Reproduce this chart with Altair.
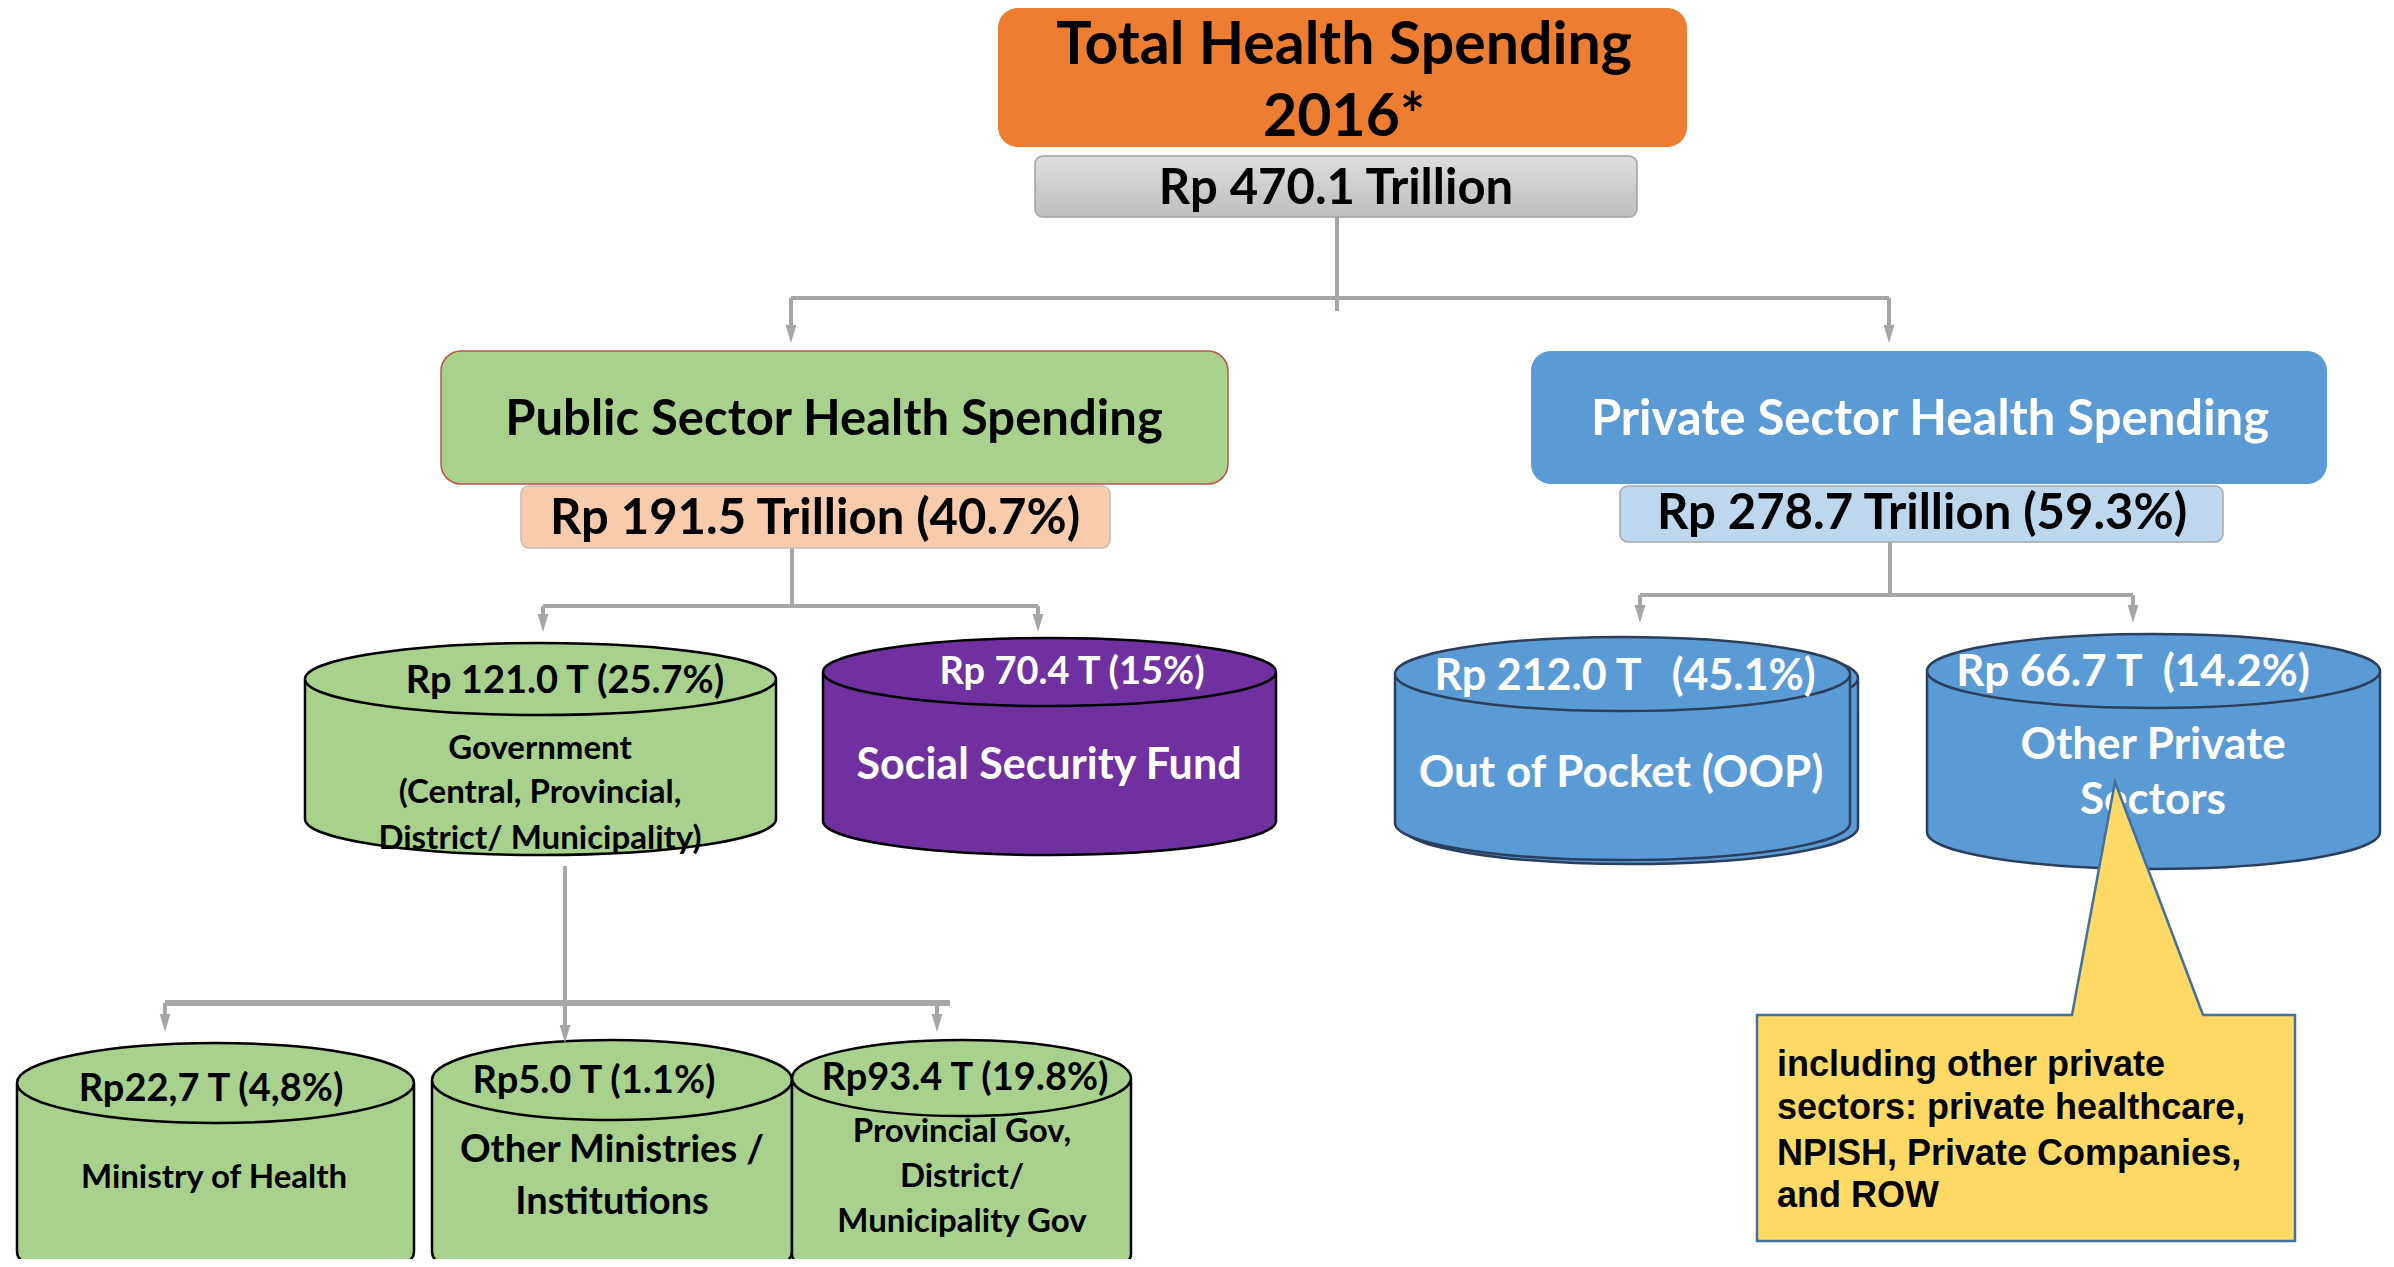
import altair as alt
import pandas as pd

# ---------------- content ----------------
title_lines = ["Total Health Spending", "2016*"]
total_label = "Rp 470.1 Trillion"
sector_names = ["Public Sector Health Spending", "Private Sector Health Spending"]
sector_amounts = ["Rp 191.5 Trillion (40.7%)", "Rp 278.7 Trillion (59.3%)"]
fund_amounts = ["Rp 121.0 T (25.7%)", "Rp 70.4 T (15%)",
                "Rp 212.0 T\u00a0\u00a0\u00a0(45.1%)", "Rp 66.7 T\u00a0 (14.2%)"]
fund_names = [["Government", "(Central, Provincial,", "District/ Municipality)"],
              ["Social Security Fund"], ["Out of Pocket (OOP)"], ["Other Private", "Sectors"]]
gov_amounts = ["Rp22,7 T (4,8%)", "Rp5.0 T (1.1%)", "Rp93.4 T (19.8%)"]
gov_names = [["Ministry of Health"], ["Other Ministries /", "Institutions"],
             ["Provincial Gov,", "District/", "Municipality Gov"]]
callout_lines = ["including other private", "sectors: private healthcare,",
                 "NPISH, Private Companies,", "and ROW"]
footnote = "*) Estimation"

# ---------------- layout (pixel space of the page) ----------------
PX0, PX1, PY0, PY1 = 8, 2386, 8, 1259
xs = alt.Scale(domain=[PX0, PX1], nice=False, zero=False)
ys = alt.Scale(domain=[PY0, PY1], nice=False, zero=False, reverse=True)

ORANGE, GREEN, BLUE, PURPLE = "#ED7D31", "#A9D18E", "#5B9BD5", "#7030A0"
LINE = "#A6A6A6"
NAVY = "#2B3F5C"

big_boxes = pd.DataFrame([
    dict(x=998, x2=1687, y=8, y2=147, fill=ORANGE, stroke=ORANGE, sw=0),
    dict(x=441, x2=1228, y=351, y2=484, fill=GREEN, stroke="#C0504D", sw=1.5),
    dict(x=1531, x2=2327, y=351, y2=484, fill=BLUE, stroke=BLUE, sw=0),
])
small_boxes = pd.DataFrame([
    dict(x=521, x2=1110, y=486, y2=548, fill="#F8CBAD", stroke="#BFBFBF", sw=1.5),
    dict(x=1620, x2=2223, y=486, y2=542, fill="#BDD7EE", stroke="#A6A6A6", sw=1.5),
])
total_box = pd.DataFrame([dict(x=1035, x2=1637, y=156, y2=217)])

connectors = pd.DataFrame([
    dict(x=1337, x2=1337, y=217, y2=311, w=4),
    dict(x=791, x2=1889, y=298, y2=298, w=4),
    dict(x=791, x2=791, y=298, y2=333, w=4),
    dict(x=1889, x2=1889, y=298, y2=333, w=4),
    dict(x=792, x2=792, y=548, y2=606, w=4),
    dict(x=543, x2=1038, y=606, y2=606, w=4),
    dict(x=543, x2=543, y=606, y2=622, w=4),
    dict(x=1038, x2=1038, y=606, y2=622, w=4),
    dict(x=1890, x2=1890, y=542, y2=595, w=4),
    dict(x=1640, x2=2133, y=595, y2=595, w=4),
    dict(x=1640, x2=1640, y=595, y2=613, w=4),
    dict(x=2133, x2=2133, y=595, y2=613, w=4),
    dict(x=565, x2=565, y=866, y2=1033, w=4),
    dict(x=165, x2=950, y=1003, y2=1003, w=6),
    dict(x=165, x2=165, y=1003, y2=1022, w=4),
    dict(x=937, x2=937, y=1003, y2=1022, w=4),
])
AH = 18  # arrow head height
arrow_tips = [(791, 343), (1889, 343), (543, 632), (1038, 632), (1640, 623),
              (2133, 623), (565, 1043), (165, 1032), (937, 1032)]
arrows = pd.DataFrame([dict(x=ax, y=ay - AH / 2) for ax, ay in arrow_tips])
ARROW_PATH = "M-0.6,-1 L0.6,-1 L0,1 Z"


def cyl_path(w, h, ry):
    s = w / 2.0
    k = 0.5523
    t = -(h / 2.0 - ry) / s
    b = (h / 2.0 - ry) / s
    r = ry / s

    def f(v):
        return f"{v:.4f}"
    return (f"M-1,{f(t)} C-1,{f(t - k*r)} {f(-k)},{f(t - r)} 0,{f(t - r)} "
            f"C{f(k)},{f(t - r)} 1,{f(t - k*r)} 1,{f(t)} "
            f"L1,{f(b)} C1,{f(b + k*r)} {f(k)},{f(b + r)} 0,{f(b + r)} "
            f"C{f(-k)},{f(b + r)} -1,{f(b + k*r)} -1,{f(b)} Z "
            f"M1,{f(t)} C1,{f(t + k*r)} {f(k)},{f(t + r)} 0,{f(t + r)} "
            f"C{f(-k)},{f(t + r)} -1,{f(t + k*r)} -1,{f(t)}")


cyl_specs = [  # x0, x1, top, bottom, ry, fill, stroke
    (305, 776, 643, 855, 36, GREEN, "#000000"),
    (823, 1276, 638, 855, 34, PURPLE, "#000000"),
    (1403, 1858, 641, 864, 37, BLUE, NAVY),
    (1395, 1850, 637, 860, 37, BLUE, NAVY),
    (1927, 2380, 634, 869, 37, BLUE, NAVY),
    (17, 414, 1043, 1292, 40, GREEN, "#000000"),
    (432, 792, 1040, 1292, 40, GREEN, "#000000"),
    (792, 1131, 1040, 1292, 38, GREEN, "#000000"),
]
cyls = pd.DataFrame([
    dict(x=(a + b) / 2, y=(t + bt) / 2, path=cyl_path(b - a, bt - t, ry),
         size=(b - a) ** 2, fill=fc, stroke=sc)
    for a, b, t, bt, ry, fc, sc in cyl_specs
])

BLACK, WHITE = "#000000", "#FFFFFF"
texts = []
texts += [dict(t=title_lines[0], x=1344, y=46, s=59, c=BLACK),
          dict(t=title_lines[1], x=1344, y=118, s=59, c=BLACK),
          dict(t=total_label, x=1336, y=189, s=49, c=BLACK),
          dict(t=sector_names[0], x=834, y=420, s=49, c=BLACK),
          dict(t=sector_amounts[0], x=815, y=519, s=49, c=BLACK),
          dict(t=sector_names[1], x=1930, y=420, s=49, c=WHITE),
          dict(t=sector_amounts[1], x=1922, y=514, s=49, c=BLACK)]
fund_amt_pos = [(565, 682, BLACK), (1072, 673, WHITE), (1625, 677, WHITE), (2133, 673, WHITE)]
fund_amt_size = [38, 38, 43, 44]
fund_name_pos = [[(540, 749), (540, 793), (540, 839)], [(1049, 766)], [(1621, 774)],
                 [(2153, 746), (2153, 801)]]
fund_name_size = [33, 43, 44, 44]
for i, amt in enumerate(fund_amounts):
    ax, ay, col = fund_amt_pos[i]
    texts.append(dict(t=amt, x=ax, y=ay, s=fund_amt_size[i], c=col))
    for line, (lx, ly) in zip(fund_names[i], fund_name_pos[i]):
        texts.append(dict(t=line, x=lx, y=ly, s=fund_name_size[i], c=col))
gov_amt_pos = [(211, 1090), (594, 1082), (965, 1079)]
gov_name_pos = [[(214, 1178)], [(612, 1151), (612, 1203)],
                [(962, 1132), (962, 1177), (962, 1222)]]
gov_name_size = [33, 38, 33]
for i, amt in enumerate(gov_amounts):
    ax, ay = gov_amt_pos[i]
    texts.append(dict(t=amt, x=ax, y=ay, s=38, c=BLACK))
    for line, (lx, ly) in zip(gov_names[i], gov_name_pos[i]):
        texts.append(dict(t=line, x=lx, y=ly, s=gov_name_size[i], c=BLACK))
texts = pd.DataFrame(texts)

callout_shape = pd.DataFrame([
    dict(x=1757, y=1015, y2=1241), dict(x=2072, y=1015, y2=1241),
    dict(x=2115, y=782, y2=1241), dict(x=2203, y=1015, y2=1241),
    dict(x=2295, y=1015, y2=1241),
])
callout_text = pd.DataFrame([dict(t=l, x=1777, y=y) for l, y in
                             zip(callout_lines, [1065, 1108, 1154, 1196])])
foot = pd.DataFrame([dict(t=footnote, x=1283, y=1278)])

# ---------------- layers ----------------
def xy_rect(base):
    return base.encode(
        x=alt.X("x:Q", scale=xs, axis=None), x2="x2:Q",
        y=alt.Y("y:Q", scale=ys, axis=None), y2="y2:Q")


conn_layer = alt.Chart(connectors).mark_rule(color=LINE).encode(
    x=alt.X("x:Q", scale=xs, axis=None), x2="x2:Q",
    y=alt.Y("y:Q", scale=ys, axis=None), y2="y2:Q",
    strokeWidth=alt.StrokeWidth("w:Q", scale=None))

big_layer = xy_rect(alt.Chart(big_boxes).mark_rect(cornerRadius=20)).encode(
    fill=alt.Fill("fill:N", scale=None), stroke=alt.Stroke("stroke:N", scale=None),
    strokeWidth=alt.StrokeWidth("sw:Q", scale=None))
small_layer = xy_rect(alt.Chart(small_boxes).mark_rect(cornerRadius=8)).encode(
    fill=alt.Fill("fill:N", scale=None), stroke=alt.Stroke("stroke:N", scale=None),
    strokeWidth=alt.StrokeWidth("sw:Q", scale=None))
gray_grad = alt.LinearGradient(
    gradient="linear",
    stops=[alt.GradientStop(color="#DEDEDE", offset=0),
           alt.GradientStop(color="#BEBEBE", offset=1)],
    x1=0, x2=0, y1=0, y2=1)
total_layer = xy_rect(alt.Chart(total_box).mark_rect(
    cornerRadius=8, fill=gray_grad, stroke="#A0A0A0", strokeWidth=1.5))

cyl_layer = alt.Chart(cyls).mark_point(filled=True, opacity=1, strokeWidth=2.5).encode(
    x=alt.X("x:Q", scale=xs, axis=None), y=alt.Y("y:Q", scale=ys, axis=None),
    shape=alt.Shape("path:N", scale=None), size=alt.Size("size:Q", scale=None),
    fill=alt.Fill("fill:N", scale=None), stroke=alt.Stroke("stroke:N", scale=None))

arrow_layer = alt.Chart(arrows).mark_point(
    filled=True, opacity=1, shape=ARROW_PATH, size=AH * AH, color=LINE, strokeWidth=0).encode(
    x=alt.X("x:Q", scale=xs, axis=None), y=alt.Y("y:Q", scale=ys, axis=None))

text_layer = alt.Chart(texts).mark_text(
    font="Lato", fontWeight="bold", align="center", baseline="middle").encode(
    x=alt.X("x:Q", scale=xs, axis=None), y=alt.Y("y:Q", scale=ys, axis=None),
    text="t:N", size=alt.Size("s:Q", scale=None), color=alt.Color("c:N", scale=None))

callout_layer = alt.Chart(callout_shape).mark_area(
    fill="#FFD966", stroke="#41719C", strokeWidth=2.5, opacity=1).encode(
    x=alt.X("x:Q", scale=xs, axis=None),
    y=alt.Y("y:Q", scale=ys, axis=None), y2="y2:Q")

callout_txt_layer = alt.Chart(callout_text).mark_text(
    font="Liberation Sans Narrow, Arial Narrow, Liberation Sans", fontWeight="bold",
    align="left", baseline="middle", fontSize=36, color=BLACK).encode(
    x=alt.X("x:Q", scale=xs, axis=None), y=alt.Y("y:Q", scale=ys, axis=None), text="t:N")

foot_layer = alt.Chart(foot).mark_text(
    font="Liberation Sans", fontWeight="bold", align="left", baseline="middle",
    fontSize=34, color=BLACK).encode(
    x=alt.X("x:Q", scale=xs, axis=None), y=alt.Y("y:Q", scale=ys, axis=None), text="t:N")

chart = alt.layer(
    conn_layer, big_layer, total_layer, small_layer, cyl_layer, arrow_layer,
    text_layer, callout_layer, callout_txt_layer, foot_layer
).properties(
    width=PX1 - PX0, height=PY1 - PY0,
    autosize=alt.AutoSizeParams(type="none"), padding=0, background="white"
).configure_view(stroke=None)

chart.save("out.html", embed_options={"renderer": "svg", "actions": False})
